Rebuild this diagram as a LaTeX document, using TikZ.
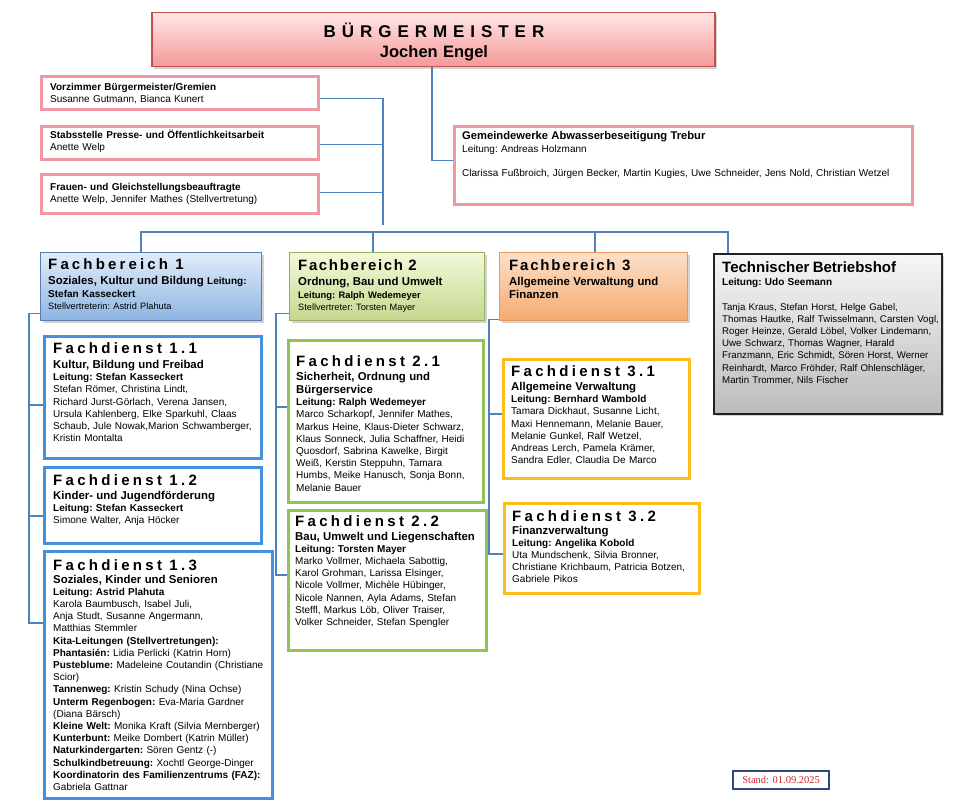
\documentclass[tikz,border=0pt]{standalone}
\usepackage{fontspec}
\setmainfont{Liberation Sans}
\newfontfamily\standfont{Liberation Serif}
\usetikzlibrary{shadows,calc}

\definecolor{connc}{RGB}{79,129,189}
\definecolor{pinkb}{RGB}{240,152,162}
\definecolor{bmtop}{RGB}{255,230,230}
\definecolor{bmbot}{RGB}{245,152,152}
\definecolor{bmb}{RGB}{192,80,77}
\definecolor{fbatop}{RGB}{225,236,250}
\definecolor{fbabot}{RGB}{141,180,226}
\definecolor{fbab}{RGB}{90,125,170}
\definecolor{fbbtop}{RGB}{242,249,218}
\definecolor{fbbbot}{RGB}{196,216,140}
\definecolor{fbbb}{RGB}{150,175,100}
\definecolor{fbctop}{RGB}{252,224,202}
\definecolor{fbcbot}{RGB}{246,170,112}
\definecolor{fbcb}{RGB}{235,150,90}
\definecolor{tbtop}{RGB}{246,246,246}
\definecolor{tbbot}{RGB}{188,188,188}
\definecolor{tbb}{RGB}{35,35,35}
\definecolor{blueb}{RGB}{66,145,222}
\definecolor{greenb}{RGB}{143,196,82}
\definecolor{goldb}{RGB}{250,190,30}
\definecolor{standb}{RGB}{45,75,125}
\definecolor{standt}{RGB}{200,40,50}

\newcommand\fdT[2]{{\fontsize{15}{15}\selectfont\bfseries\addfontfeature{LetterSpace=22}#1\hspace{4pt} #2}}
\newcommand\fS[1]{{\fontsize{11.4}{12.2}\selectfont\bfseries #1}}
\newcommand\fL[1]{{\fontsize{10}{12.2}\selectfont\bfseries #1}}

\tikzset{
  conn/.style={draw=connc, line width=1.2pt},
  staffbox/.style={draw=pinkb, line width=2.8pt, fill=white},
  bmbox/.style={draw=bmb, line width=1.5pt, top color=bmtop, bottom color=bmbot,
    drop shadow={opacity=0.35, shadow xshift=2pt, shadow yshift=-2pt}},
  fbabox/.style={draw=fbab, line width=1.3pt, top color=fbatop, bottom color=fbabot,
    drop shadow={opacity=0.35, shadow xshift=2pt, shadow yshift=-2pt}},
  fbbbox/.style={draw=fbbb, line width=1.3pt, top color=fbbtop, bottom color=fbbbot,
    drop shadow={opacity=0.35, shadow xshift=2pt, shadow yshift=-2pt}},
  fbcbox/.style={draw=fbcb, line width=1.3pt, top color=fbctop, bottom color=fbcbot,
    drop shadow={opacity=0.35, shadow xshift=2pt, shadow yshift=-2pt}},
  tbbox/.style={draw=tbb, line width=1.5pt, top color=tbtop, bottom color=tbbot,
    drop shadow={opacity=0.35, shadow xshift=2pt, shadow yshift=-2pt}},
  fdabox/.style={draw=blueb, line width=3.4pt, fill=white},
  fdbbox/.style={draw=greenb, line width=3.4pt, fill=white},
  fdcbox/.style={draw=goldb, line width=3.4pt, fill=white},
  tx/.style={inner sep=0pt, align=left, anchor=base west, font=\fontsize{10}{12.2}\selectfont\frenchspacing},
}

% name, style, x1, y1, x2, y2, text x, first baseline y, content
\newcommand\orgbox[9]{%
  \pgfmathsetmacro\bw{#5-#3}%
  \pgfmathsetmacro\bh{#6-#4}%
  \pgfmathsetmacro\tw{#5-#7+20}%
  \node[#2, anchor=north west, inner sep=0pt, minimum width=\bw pt, minimum height=\bh pt] (#1) at (#3,-#4) {};
  \node[tx, text width=\tw pt] (#1t) at (#7,-#8) {#9};
}

\begin{document}
\begin{tikzpicture}[x=1pt,y=1pt]
\useasboundingbox (0,0) rectangle (961,-800);

% ---------- Buergermeister ----------
\node[bmbox, anchor=north west, inner sep=0pt, minimum width=563pt, minimum height=54pt] (bm) at (151,-12) {};
\node[inner sep=0pt, anchor=base, text width=450pt, align=center, font=\fontsize{16}{20}\selectfont] (bmt) at (434,-38)
  {{\fontsize{17}{20}\selectfont\bfseries\addfontfeature{LetterSpace=35}BÜRGERMEISTER}\\
   {\fontsize{16.5}{20}\selectfont\bfseries Jochen Engel}};

% ---------- Staff boxes ----------
\orgbox{vz}{staffbox}{40}{75}{317}{108}{50}{90}{%
  {\bfseries Vorzimmer Bürgermeister/Gremien}\\
  Susanne Gutmann, Bianca Kunert}
\orgbox{st}{staffbox}{40}{125}{317}{158}{50}{138}{%
  {\bfseries Stabsstelle Presse- und Öffentlichkeitsarbeit}\\[0.6pt]
  Anette Welp}
\orgbox{fr}{staffbox}{40}{173}{317}{212}{50}{190}{%
  {\bfseries Frauen- und Gleichstellungsbeauftragte}\\
  Anette Welp, Jennifer Mathes (Stellvertretung)}
\orgbox{gw}{staffbox}{453}{125}{911}{203}{462}{139}{%
  {\fontsize{11.2}{12.2}\selectfont\bfseries Gemeindewerke Abwasserbeseitigung Trebur}\\[1pt]
  Leitung: Andreas Holzmann\\[11.6pt]
  Clarissa Fußbroich, Jürgen Becker, Martin Kugies, Uwe Schneider, Jens Nold, Christian Wetzel}

% ---------- Fachbereiche ----------
\orgbox{fb1}{fbabox}{40}{252}{261}{320}{48}{269}{%
  {\fontsize{15}{15}\selectfont\bfseries\addfontfeature{LetterSpace=21}Fachbereich\hspace{4pt} 1}\\[3.5pt]
  \fS{Soziales, Kultur und Bildung {\fontsize{10}{12}\selectfont Leitung:}}\\[0.6pt]
  \fL{Stefan Kasseckert}\\
  {\fontsize{9.2}{12}\selectfont Stellvertreterin: Astrid Plahuta}}
\orgbox{fb2}{fbbbox}{289}{252}{484}{320}{298}{270}{%
  {\fontsize{15}{15}\selectfont\bfseries\addfontfeature{LetterSpace=11}Fachbereich\hspace{2pt} 2}\\[3pt]
  \fS{Ordnung, Bau und Umwelt}\\[0.6pt]
  {\fontsize{9.4}{12}\selectfont\bfseries Leitung: Ralph Wedemeyer}\\
  {\fontsize{9.2}{12}\selectfont Stellvertreter: Torsten Mayer}}
\orgbox{fb3}{fbcbox}{499}{252}{687}{320}{509}{270}{%
  {\fontsize{15}{15}\selectfont\bfseries\addfontfeature{LetterSpace=12}Fachbereich\ \ 3}\\[3.5pt]
  \fS{Allgemeine Verwaltung und}\\[0.5pt]
  \fS{Finanzen}}
\orgbox{tb}{tbbox}{713}{253}{941}{413}{722}{272}{%
  {\fontsize{15}{15}\selectfont\bfseries Technischer Betriebshof}\\[0.8pt]
  \fL{Leitung: Udo Seemann}\\[12.8pt]
  {\fontsize{9.7}{12.2}\selectfont Tanja Kraus, Stefan Horst, Helge Gabel,}\\
  {\fontsize{9.7}{12.2}\selectfont Thomas Hautke, Ralf Twisselmann, Carsten Vogl,}\\
  {\fontsize{9.7}{12.2}\selectfont Roger Heinze, Gerald Löbel, Volker Lindemann,}\\
  {\fontsize{9.7}{12.2}\selectfont Uwe Schwarz, Thomas Wagner, Harald}\\
  {\fontsize{9.7}{12.2}\selectfont Franzmann, Eric Schmidt, Sören Horst, Werner}\\
  {\fontsize{9.7}{12.2}\selectfont Reinhardt, Marco Fröhder, Ralf Ohlenschläger,}\\
  {\fontsize{9.7}{12.2}\selectfont Martin Trommer, Nils Fischer}}

% ---------- Fachdienste 1 ----------
\orgbox{fd11}{fdabox}{43}{335}{260}{457}{53}{353}{%
  \fdT{Fachdienst}{1.1}\\[2.8pt]
  \fS{Kultur, Bildung und Freibad}\\[0.5pt]
  \fL{Leitung: Stefan Kasseckert}\\
  Stefan Römer, Christina Lindt,\\
  Richard Jurst-Görlach, Verena Jansen,\\
  Ursula Kahlenberg, Elke Sparkuhl, Claas\\
  Schaub, Jule Nowak,Marion Schwamberger,\\
  Kristin Montalta}
\orgbox{fd12}{fdabox}{43}{466}{260}{542}{53}{485}{%
  \fdT{Fachdienst}{1.2}\\[1.8pt]
  \fS{Kinder- und Jugendförderung}\\
  \fL{Leitung: Stefan Kasseckert}\\
  Simone Walter, Anja Höcker}
\orgbox{fd13}{fdabox}{43}{550}{271}{797}{53}{570}{%
  \fdT{Fachdienst}{1.3}\\[0.8pt]
  \fS{Soziales, Kinder und Senioren}\\
  \fL{Leitung: Astrid Plahuta}\\
  Karola Baumbusch, Isabel Juli,\\
  Anja Studt, Susanne Angermann,\\
  Matthias Stemmler\\
  {\bfseries Kita-Leitungen (Stellvertretungen):}\\
  {\bfseries Phantasién:} Lidia Perlicki (Katrin Horn)\\
  {\bfseries Pusteblume:} Madeleine Coutandin (Christiane\\
  Scior)\\
  {\bfseries Tannenweg:} Kristin Schudy (Nina Ochse)\\
  {\bfseries Unterm Regenbogen:} Eva-Maria Gardner\\
  (Diana Bärsch)\\
  {\bfseries Kleine Welt:} Monika Kraft (Silvia Mernberger)\\
  {\bfseries Kunterbunt:} Meike Dombert (Katrin Müller)\\
  {\bfseries Naturkindergarten:} Sören Gentz (-)\\
  {\bfseries Schulkindbetreuung:} Xochtl George-Dinger\\
  {\bfseries Koordinatorin des Familienzentrums (FAZ):}\\
  Gabriela Gattnar}

% ---------- Fachdienste 2 ----------
\orgbox{fd21}{fdbbox}{287}{339}{482}{501}{296}{366}{%
  \fdT{Fachdienst}{2.1}\\[1.8pt]
  \fS{Sicherheit, Ordnung und}\\[1.3pt]
  \fS{Bürgerservice}\\
  \fL{Leitung: Ralph Wedemeyer}\\
  Marco Scharkopf, Jennifer Mathes,\\
  Markus Heine, Klaus-Dieter Schwarz,\\
  Klaus Sonneck, Julia Schaffner, Heidi\\
  Quosdorf, Sabrina Kawelke, Birgit\\
  Weiß, Kerstin Steppuhn, Tamara\\
  Humbs, Meike Hanusch, Sonja Bonn,\\
  Melanie Bauer}
\orgbox{fd22}{fdbbox}{287}{509}{485}{649}{295}{526}{%
  \fdT{Fachdienst}{2.2}\\[1.8pt]
  \fS{Bau, Umwelt und Liegenschaften}\\
  \fL{Leitung: Torsten Mayer}\\
  Marko Vollmer, Michaela Sabottig,\\
  Karol Grohman, Larissa Elsinger,\\
  Nicole Vollmer, Michèle Hübinger,\\
  Nicole Nannen, Ayla Adams, Stefan\\
  Steffl, Markus Löb, Oliver Traiser,\\
  Volker Schneider, Stefan Spengler}

% ---------- Fachdienste 3 ----------
\orgbox{fd31}{fdcbox}{502}{358}{688}{477}{511}{376}{%
  \fdT{Fachdienst}{3.1}\\[2.3pt]
  \fS{Allgemeine Verwaltung}\\
  \fL{Leitung: Bernhard Wambold}\\
  Tamara Dickhaut, Susanne Licht,\\
  Maxi Hennemann, Melanie Bauer,\\
  Melanie Gunkel, Ralf Wetzel,\\
  Andreas Lerch, Pamela Krämer,\\
  Sandra Edler, Claudia De Marco}
\orgbox{fd32}{fdcbox}{503}{502}{698}{592}{512}{521}{%
  \fdT{Fachdienst}{3.2}\\[0.8pt]
  \fS{Finanzverwaltung}\\
  \fL{Leitung: Angelika Kobold}\\
  Uta Mundschenk, Silvia Bronner,\\
  Christiane Krichbaum, Patricia Botzen,\\
  Gabriele Pikos}

% ---------- Stand ----------
\node[draw=standb, line width=2.2pt, fill=white, anchor=north west, inner sep=0pt,
      minimum width=96pt, minimum height=18pt, text=standt,
      font=\standfont\fontsize{10.5}{12}\selectfont] (stand) at (732,-770) {Stand: 01.09.2025};

% ---------- Connectors ----------
\coordinate (xg) at (432,0);
\draw[conn] (bm.south -| xg) |- ([yshift=5pt]gw.west);

\coordinate (xs) at (383,0);
\coordinate (send) at (383,-225);
\draw[conn] ([yshift=-5.5pt]vz.east) -- ([yshift=-5.5pt]vz.east -| xs) -- (send);
\draw[conn] ([yshift=-1.5pt]st.east) -- ([yshift=-1.5pt]st.east -| xs);
\draw[conn] ([yshift=1.5pt]fr.east) -- ([yshift=1.5pt]fr.east -| xs);

\coordinate (bus) at (0,-232);
\coordinate (d1) at (141,0);
\coordinate (d2) at (373,0);
\coordinate (d3) at (595,0);
\coordinate (d4) at (728,0);
\draw[conn] (fb1.north -| d1) -- (d1 |- bus) -- (d4 |- bus) -- (tb.north -| d4);
\draw[conn] (fb2.north -| d2) -- (d2 |- bus);
\draw[conn] (fb3.north -| d3) -- (d3 |- bus);

% column 1
\coordinate (c1) at (29,0);
\coordinate (f1s) at ($(fb1.south west)+(0,8)$);
\coordinate (s11) at ($(fd11.north west)+(0,-70)$);
\coordinate (s12) at ($(fd12.north west)+(0,-50)$);
\coordinate (s13) at ($(fd13.north west)+(0,-73)$);
\draw[conn] (f1s) -- (f1s -| c1) -- (s13 -| c1) -- (s13);
\draw[conn] (s11 -| c1) -- (s11);
\draw[conn] (s12 -| c1) -- (s12);

% column 2
\coordinate (c2) at (276,0);
\coordinate (f2s) at ($(fb2.south west)+(0,8)$);
\coordinate (s21) at ($(fd21.north west)+(0,-68)$);
\coordinate (s22) at ($(fd22.north west)+(0,-66)$);
\draw[conn] (f2s) -- (f2s -| c2) -- (s22 -| c2) -- (s22);
\draw[conn] (s21 -| c2) -- (s21);

% column 3
\coordinate (c3) at (489,0);
\coordinate (f3s) at ($(fb3.south west)+(0,2)$);
\coordinate (s31) at ($(fd31.north west)+(0,-56)$);
\coordinate (s32) at ($(fd32.north west)+(0,-52)$);
\draw[conn] (f3s) -- (f3s -| c3) -- (s32 -| c3) -- (s32);
\draw[conn] (s31 -| c3) -- (s31);
\end{tikzpicture}
\end{document}
